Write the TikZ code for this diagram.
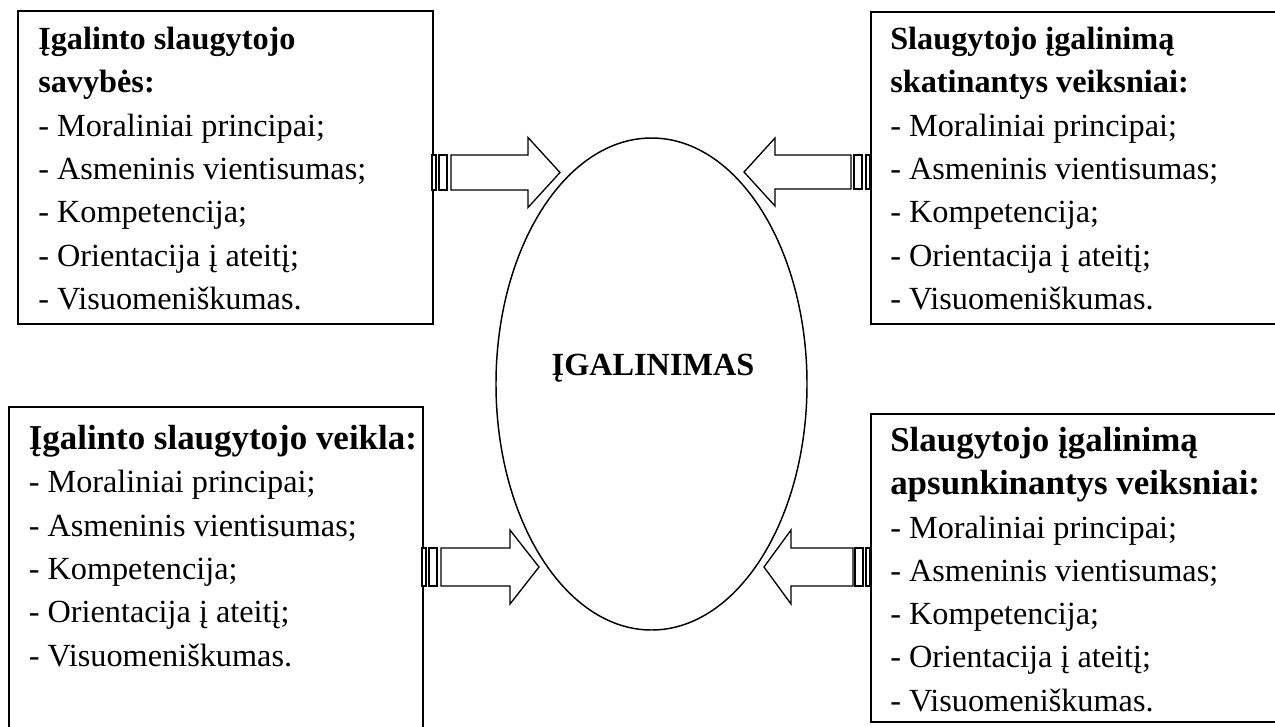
\documentclass[tikz,border=0pt]{standalone}
\usepackage{fontspec}
\setmainfont{Liberation Serif}
\usetikzlibrary{shapes.geometric}
\begin{document}
\begin{tikzpicture}[x=0.75pt,y=-0.75pt,
  boxframe/.style={draw,line width=1.5pt,inner sep=0pt,anchor=north west},
  txt/.style={anchor=base west,inner sep=0pt,font=\fontsize{24.2}{29}\selectfont},
  bigtitle/.style={font=\fontsize{26.2}{31}\selectfont\bfseries},
  arr/.style={draw,line width=1pt,fill=white,line join=miter}]
\useasboundingbox (0,0) rectangle (1275,726);
\clip (0,0) rectangle (1275,726);
% boxes
\node[boxframe,minimum width=311.25pt,minimum height=234.75pt] (b1) at (17,10) {};
\node[boxframe,minimum width=315pt,minimum height=234.4pt] (b2) at (870,10.5) {};
\node[boxframe,minimum width=310.5pt,minimum height=255pt] (b3) at (8,406) {};
\node[boxframe,minimum width=315pt,minimum height=231pt] (b4) at (870,413) {};
% texts
\foreach \t [count=\i from 0] in {\textbf{Įgalinto slaugytojo},\textbf{savybės:},- Moraliniai principai;,- Asmeninis vientisumas;,- Kompetencija;,- Orientacija į ateitį;,- Visuomeniškumas.}
  \node[txt] (ta\i) at (38,{49.5+43.3*\i}) {\t};
\foreach \t [count=\i from 0] in {\textbf{Slaugytojo įgalinimą},\textbf{skatinantys veiksniai:},- Moraliniai principai;,- Asmeninis vientisumas;,- Kompetencija;,- Orientacija į ateitį;,- Visuomeniškumas.}
  \node[txt] (tb\i) at (890,{49.5+43.3*\i}) {\t};
\node[txt,bigtitle] (tc0) at (28.5,449.5) {Įgalinto slaugytojo veikla:};
\foreach \t [count=\i from 1] in {- Moraliniai principai;,- Asmeninis vientisumas;,- Kompetencija;,- Orientacija į ateitį;,- Visuomeniškumas.}
  \node[txt] (tc\i) at (28.5,{449.5+43.3*\i}) {\t};
\node[txt,bigtitle] (td0) at (890,451.4) {Slaugytojo įgalinimą};
\node[txt,bigtitle] (td1) at (890,494.7) {apsunkinantys veiksniai:};
\foreach \t [count=\i from 2] in {- Moraliniai principai;,- Asmeninis vientisumas;,- Kompetencija;,- Orientacija į ateitį;,- Visuomeniškumas.}
  \node[txt] (td\i) at (890,{451.4+43.3*\i}) {\t};
% ellipse
\node[draw,ellipse,line width=1.1pt,minimum width=233.25pt,minimum height=369pt,inner sep=0pt] (c) at (651.5,384) {};
\node[anchor=base,inner sep=0pt,font=\fontsize{24.2}{29}\selectfont\bfseries] (ct) at (653,375) {ĮGALINIMAS};
% arrows
\draw[arr] (432,155) rectangle (436,190);
\draw[arr] (439,155) rectangle (447,190);
\draw[arr] (451,155) -- (528,155) -- (528,137.5) -- (560,172.5) -- (528,207.5) -- (528,190) -- (451,190) -- cycle;
\draw[arr] (866,155) rectangle (870,189);
\draw[arr] (854,155) rectangle (862,189);
\draw[arr] (851,155) -- (775,155) -- (775,138) -- (744,172) -- (775,206) -- (775,189) -- (851,189) -- cycle;
\draw[arr] (422,548) rectangle (426,586);
\draw[arr] (429,548) rectangle (437,586);
\draw[arr] (441,548) -- (510,548) -- (510,530) -- (539,567) -- (510,604) -- (510,586) -- (441,586) -- cycle;
\draw[arr] (866,548) rectangle (870,586);
\draw[arr] (855,548) rectangle (863,586);
\draw[arr] (853,548) -- (791,548) -- (791,530) -- (764,567) -- (791,604) -- (791,586) -- (853,586) -- cycle;
\end{tikzpicture}
\end{document}
